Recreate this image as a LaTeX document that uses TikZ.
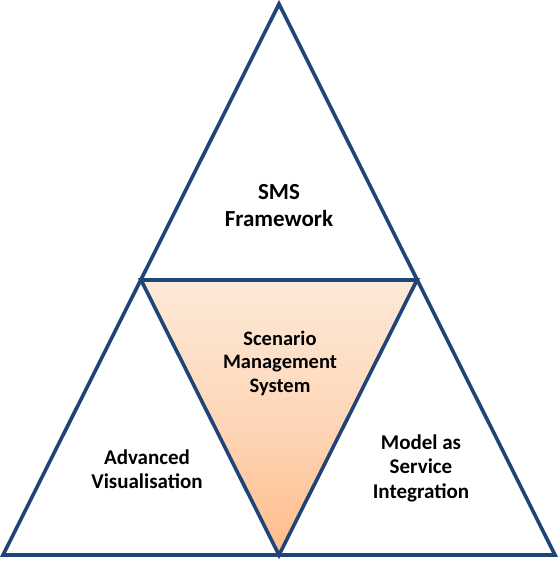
\documentclass[tikz,border=0pt]{standalone}
\usepackage{fontspec}
\setmainfont{Carlito}
\definecolor{edgeblue}{RGB}{31,68,120}
\definecolor{peachtop}{RGB}{253,233,216}
\definecolor{peachbot}{RGB}{255,188,138}
\begin{document}
\begin{tikzpicture}[x=1pt,y=-1pt,
  edge/.style={draw=edgeblue,line width=3.6pt,line join=miter},
  lbl/.style={align=center,font=\bfseries\fontsize{20.5}{23.5}\selectfont,text=black,inner sep=0pt},
  sidelbl/.style={align=center,font=\bfseries\fontsize{21}{24.5}\selectfont,text=black,inner sep=0pt},
  biglbl/.style={align=center,font=\bfseries\fontsize{23}{27}\selectfont,text=black,inner sep=0pt}]
\useasboundingbox (0,0) rectangle (558,564);
\coordinate (A) at (279,4);
\coordinate (L) at (3,555);
\coordinate (R) at (555,555);
\coordinate (ML) at (141,280);
\coordinate (MR) at (417,280);
\coordinate (MB) at (279,555);
\fill[top color=peachtop,bottom color=peachbot,middle color=peachtop!60!peachbot] (ML) -- (MR) -- (MB) -- cycle;
\draw[edge] (A) -- (R) -- (L) -- cycle;
\draw[edge] (ML) -- (MR) -- (MB) -- cycle;
\node[biglbl] (sms) at (279,206) {SMS\\Framework};
\node[lbl] (scen) at (280,363) {Scenario\\Management\\System};
\node[sidelbl] (adv) at (147,469) {Advanced\\Visualisation};
\node[sidelbl] (maas) at (421,468) {Model as\\Service\\Integration};
\end{tikzpicture}
\end{document}
